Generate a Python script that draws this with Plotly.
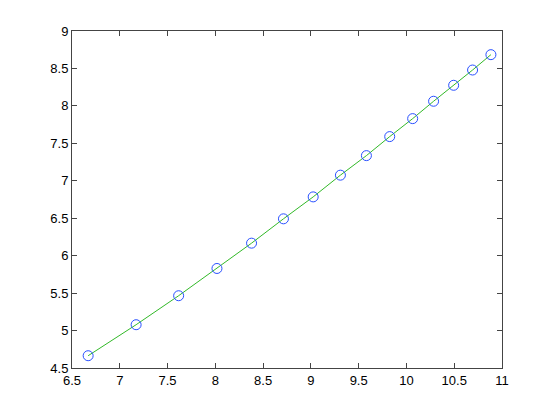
import plotly.graph_objects as go

x_vals = [6.669, 7.171, 7.616, 8.017, 8.379, 8.713, 9.024, 9.309, 9.581, 9.825,
          10.065, 10.284, 10.494, 10.692, 10.884]
y_vals = [4.664, 5.078, 5.465, 5.829, 6.167, 6.492, 6.785, 7.075, 7.336, 7.590,
          7.830, 8.062, 8.275, 8.479, 8.684]

x_ticks = [6.5, 7, 7.5, 8, 8.5, 9, 9.5, 10, 10.5, 11]
y_ticks = [4.5, 5, 5.5, 6, 6.5, 7, 7.5, 8, 8.5, 9]

fig = go.Figure()
fig.add_trace(go.Scatter(x=x_vals, y=y_vals, mode="lines",
                         line=dict(color="rgb(50,185,40)", width=1), hoverinfo="skip"))
fig.add_trace(go.Scatter(x=x_vals, y=y_vals, mode="markers",
                         marker=dict(symbol="circle-open", size=10,
                                     color="rgb(40,80,255)", line=dict(width=1))))

# the page adds an 8px body margin, so the margins are shifted by that
axis_style = dict(showgrid=False, zeroline=False, showline=True, mirror="ticks",
                  linecolor="#444", linewidth=1, ticks="inside", ticklen=5,
                  tickcolor="#444", tickfont=dict(family="Liberation Sans", size=13, color="black"))

fig.update_xaxes(range=[6.5, 11], tickvals=x_ticks, ticktext=[f"{v:g}" for v in x_ticks], **axis_style)
fig.update_yaxes(range=[4.5, 9], tickvals=y_ticks, ticktext=[f"{v:g}" for v in y_ticks], **axis_style)

fig.update_layout(width=554, height=415, showlegend=False,
                  margin=dict(l=64, r=60, t=23, b=55),
                  plot_bgcolor="white", paper_bgcolor="white")
fig.write_html("out.html")
